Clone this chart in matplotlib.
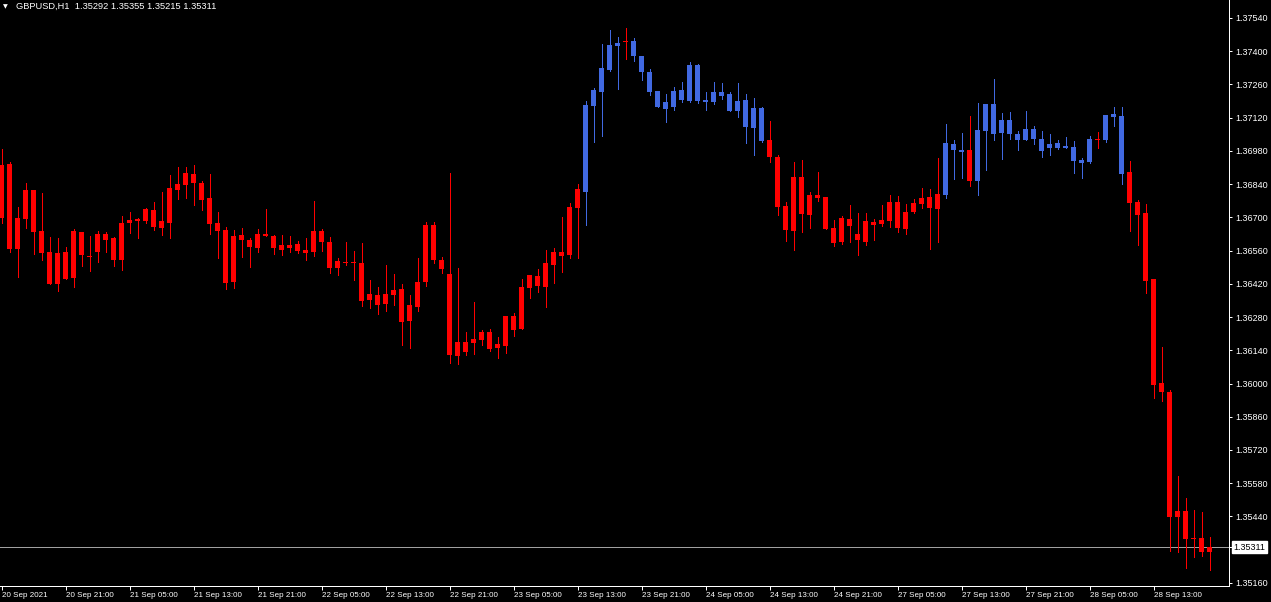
import matplotlib
matplotlib.use("Agg")
import matplotlib.pyplot as plt
import matplotlib.transforms as mtransforms
import numpy as np

#-------------------------------------------------------------------------------------------------
# %% DATA  (GBPUSD H1, 20 Sep 13:00 .. 28 Sep 20:00)

symbol = "GBPUSD,H1"

open_ = [
    1.36697, 1.36925, 1.36567, 1.36693, 1.36815, 1.36643, 1.36554, 1.36419, 1.36554, 1.36445,
    1.36638, 1.36537, 1.36554, 1.36630, 1.36613, 1.36520, 1.36676, 1.36685, 1.36685, 1.36731,
    1.36655, 1.36676, 1.36815, 1.36836, 1.36883, 1.36845, 1.36782, 1.36676, 1.36647, 1.36428,
    1.36626, 1.36605, 1.36571, 1.36630, 1.36622, 1.36563, 1.36584, 1.36588, 1.36563, 1.36554,
    1.36643, 1.36596, 1.36487, 1.36512, 1.36508, 1.36508, 1.36352, 1.36373, 1.36335, 1.36373,
    1.36398, 1.36263, 1.36322, 1.36428, 1.36668, 1.36520, 1.36461, 1.36116, 1.36175, 1.36171,
    1.36183, 1.36217, 1.36150, 1.36158, 1.36284, 1.36230, 1.36402, 1.36453, 1.36407, 1.36499,
    1.36554, 1.36541, 1.36740, 1.36807, 1.37169, 1.37228, 1.37321, 1.37422, 1.37437, 1.37443,
    1.37380, 1.37312, 1.37232, 1.37157, 1.37165, 1.37237, 1.37190, 1.37342, 1.37194, 1.37186,
    1.37228, 1.37220, 1.37148, 1.37194, 1.37077, 1.37161, 1.37026, 1.36954, 1.36748, 1.36643,
    1.36870, 1.36710, 1.36794, 1.36786, 1.36655, 1.36596, 1.36693, 1.36630, 1.36596, 1.36681,
    1.36672, 1.36685, 1.36765, 1.36651, 1.36723, 1.36756, 1.36786, 1.36735, 1.36794, 1.37009,
    1.36975, 1.36984, 1.36853, 1.37064, 1.37178, 1.37055, 1.37110, 1.37051, 1.37026, 1.37072,
    1.37030, 1.36992, 1.37013, 1.37001, 1.36996, 1.36929, 1.36933, 1.37028, 1.37026, 1.37123,
    1.37127, 1.36891, 1.36765, 1.36718, 1.36440, 1.36002, 1.35964, 1.35438, 1.35463, 1.35345,
    1.35349, 1.35292]

high_ = [
    1.36988, 1.36933, 1.36744, 1.36845, 1.36815, 1.36803, 1.36617, 1.36613, 1.36575, 1.36651,
    1.36638, 1.36622, 1.36643, 1.36638, 1.36617, 1.36706, 1.36723, 1.36697, 1.36740, 1.36765,
    1.36807, 1.36879, 1.36912, 1.36912, 1.36921, 1.36853, 1.36883, 1.36723, 1.36659, 1.36647,
    1.36655, 1.36613, 1.36651, 1.36735, 1.36626, 1.36626, 1.36622, 1.36600, 1.36613, 1.36769,
    1.36651, 1.36617, 1.36529, 1.36596, 1.36558, 1.36592, 1.36436, 1.36407, 1.36499, 1.36461,
    1.36419, 1.36373, 1.36529, 1.36681, 1.36681, 1.36533, 1.36887, 1.36487, 1.36217, 1.36343,
    1.36226, 1.36230, 1.36196, 1.36284, 1.36297, 1.36440, 1.36457, 1.36482, 1.36563, 1.36571,
    1.36702, 1.36761, 1.36841, 1.37190, 1.37245, 1.37430, 1.37489, 1.37460, 1.37498, 1.37456,
    1.37380, 1.37325, 1.37232, 1.37220, 1.37249, 1.37270, 1.37355, 1.37346, 1.37228, 1.37270,
    1.37266, 1.37228, 1.37266, 1.37220, 1.37203, 1.37165, 1.37106, 1.36963, 1.36765, 1.36933,
    1.36942, 1.36807, 1.36891, 1.36786, 1.36689, 1.36706, 1.36752, 1.36718, 1.36718, 1.36693,
    1.36752, 1.36794, 1.36790, 1.36756, 1.36777, 1.36824, 1.36820, 1.36950, 1.37093, 1.37026,
    1.37055, 1.37127, 1.37182, 1.37178, 1.37283, 1.37140, 1.37144, 1.37064, 1.37148, 1.37085,
    1.37064, 1.37051, 1.37026, 1.37039, 1.37022, 1.36950, 1.37043, 1.37060, 1.37131, 1.37165,
    1.37165, 1.36938, 1.36773, 1.36756, 1.36440, 1.36154, 1.35973, 1.35610, 1.35518, 1.35467,
    1.35459, 1.35355]

low_ = [
    1.36676, 1.36554, 1.36449, 1.36655, 1.36546, 1.36520, 1.36419, 1.36390, 1.36440, 1.36407,
    1.36495, 1.36474, 1.36512, 1.36554, 1.36495, 1.36478, 1.36634, 1.36613, 1.36676, 1.36647,
    1.36626, 1.36613, 1.36777, 1.36782, 1.36752, 1.36731, 1.36630, 1.36529, 1.36398, 1.36402,
    1.36533, 1.36491, 1.36554, 1.36622, 1.36546, 1.36541, 1.36554, 1.36550, 1.36520, 1.36537,
    1.36558, 1.36466, 1.36457, 1.36499, 1.36436, 1.36327, 1.36318, 1.36293, 1.36306, 1.36331,
    1.36162, 1.36150, 1.36306, 1.36411, 1.36508, 1.36466, 1.36086, 1.36082, 1.36120, 1.36124,
    1.36162, 1.36137, 1.36108, 1.36129, 1.36200, 1.36230, 1.36360, 1.36386, 1.36322, 1.36424,
    1.36470, 1.36529, 1.36529, 1.36668, 1.37018, 1.37043, 1.37317, 1.37241, 1.37367, 1.37359,
    1.37279, 1.37216, 1.37165, 1.37102, 1.37152, 1.37186, 1.37186, 1.37182, 1.37152, 1.37178,
    1.37199, 1.37148, 1.37123, 1.37013, 1.36963, 1.37018, 1.36933, 1.36710, 1.36600, 1.36563,
    1.36638, 1.36655, 1.36769, 1.36651, 1.36579, 1.36588, 1.36596, 1.36541, 1.36584, 1.36605,
    1.36664, 1.36659, 1.36638, 1.36630, 1.36718, 1.36740, 1.36567, 1.36596, 1.36782, 1.36862,
    1.36866, 1.36832, 1.36794, 1.36900, 1.37026, 1.36946, 1.37030, 1.36984, 1.37026, 1.37009,
    1.36954, 1.36963, 1.36988, 1.36992, 1.36887, 1.36866, 1.36929, 1.36992, 1.37018, 1.37085,
    1.36841, 1.36643, 1.36584, 1.36381, 1.35939, 1.35926, 1.35294, 1.35290, 1.35223, 1.35269,
    1.35273, 1.35215]

close_ = [
    1.36921, 1.36567, 1.36697, 1.36815, 1.36638, 1.36550, 1.36419, 1.36550, 1.36440, 1.36643,
    1.36541, 1.36533, 1.36630, 1.36605, 1.36520, 1.36676, 1.36689, 1.36693, 1.36735, 1.36659,
    1.36685, 1.36824, 1.36841, 1.36887, 1.36845, 1.36773, 1.36672, 1.36643, 1.36424, 1.36622,
    1.36605, 1.36575, 1.36630, 1.36622, 1.36571, 1.36584, 1.36571, 1.36558, 1.36550, 1.36643,
    1.36596, 1.36487, 1.36516, 1.36508, 1.36512, 1.36348, 1.36377, 1.36331, 1.36377, 1.36394,
    1.36259, 1.36331, 1.36428, 1.36668, 1.36520, 1.36482, 1.36120, 1.36175, 1.36133, 1.36188,
    1.36217, 1.36145, 1.36167, 1.36284, 1.36226, 1.36407, 1.36457, 1.36411, 1.36508, 1.36554,
    1.36537, 1.36744, 1.36820, 1.37173, 1.37237, 1.37329, 1.37426, 1.37435, 1.37437, 1.37380,
    1.37312, 1.37228, 1.37165, 1.37186, 1.37232, 1.37194, 1.37342, 1.37190, 1.37186, 1.37228,
    1.37211, 1.37148, 1.37190, 1.37081, 1.37161, 1.37022, 1.36954, 1.36744, 1.36647, 1.36870,
    1.36714, 1.36794, 1.36782, 1.36651, 1.36592, 1.36697, 1.36664, 1.36605, 1.36685, 1.36668,
    1.36689, 1.36765, 1.36655, 1.36723, 1.36761, 1.36782, 1.36740, 1.36798, 1.37013, 1.36984,
    1.36984, 1.36853, 1.37068, 1.37178, 1.37051, 1.37110, 1.37051, 1.37026, 1.37072, 1.37030,
    1.36980, 1.37009, 1.36994, 1.36992, 1.36938, 1.36942, 1.37030, 1.37028, 1.37131, 1.37136,
    1.36883, 1.36761, 1.36710, 1.36432, 1.35994, 1.35964, 1.35438, 1.35463, 1.35345, 1.35349,
    1.35290, 1.35311]

# candle colour per bar (r = red, b = blue), as shown on the chart
bar_colour = ("rrrrrrrrrrrrrrrrrrrrrrrrrrrrrrrrrrrrrrrrrrrrrrrrrrrrrrrrrrrrrrrrrrrrrrrrr"
              "bbbbbrbbbbbbbbbbbbbbbbb"
              "rrrrrrrrrrrrrrrrrrrrrr"
              "bbbrbbbbbbbbbbbbbbbrbbb"
              "rrrrrrrrrrr")

time_labels = ["20 Sep 2021", "20 Sep 21:00", "21 Sep 05:00", "21 Sep 13:00", "21 Sep 21:00",
               "22 Sep 05:00", "22 Sep 13:00", "22 Sep 21:00", "23 Sep 05:00", "23 Sep 13:00",
               "23 Sep 21:00", "24 Sep 05:00", "24 Sep 13:00", "24 Sep 21:00", "27 Sep 05:00",
               "27 Sep 13:00", "27 Sep 21:00", "28 Sep 05:00", "28 Sep 13:00"]
label_every = 8

price_ticks = [1.37540, 1.37400, 1.37260, 1.37120, 1.36980, 1.36840, 1.36700, 1.36560,
               1.36420, 1.36280, 1.36140, 1.36000, 1.35860, 1.35720, 1.35580, 1.35440,
               1.35160]

#-------------------------------------------------------------------------------------------------
# %% STYLE

RED = "#FF0000"
BLUE = "#4169E1"
PX = 0.72           # one pixel in points at dpi 100
plt.rcParams["font.family"] = ["Liberation Sans", "DejaVu Sans"]

W, H = 1271, 602
fig = plt.figure(figsize=(W / 100, H / 100), dpi=100, facecolor="black")
ax = fig.add_axes([0, 16 / H, 1229 / W, 586 / H], facecolor="black")

n = len(close_)
idx = np.arange(n)
o = np.array(open_)
h = np.array(high_)
l = np.array(low_)
c = np.array(close_)
cols = [RED if k == "r" else BLUE for k in bar_colour]

ymin, ymax = 1.35147, 1.376158
ax.set_ylim(ymin, ymax)
ax.set_xlim(-0.1875, -0.1875 + 1229 / 8)
one_px = (ymax - ymin) / 586

# wicks then bodies
ax.vlines(idx, l, h, colors=cols, linewidth=PX, antialiased=False, zorder=2)
body_lo = np.minimum(o, c)
body_h = np.maximum(np.abs(c - o), one_px)
ax.bar(idx, body_h, bottom=body_lo, width=0.625, color=cols, linewidth=0,
       antialiased=False, zorder=3)

# current bid line + label
last = close_[-1]
ax.axhline(last, color="#a0a0a0", linewidth=PX, zorder=1)
trans = mtransforms.blended_transform_factory(ax.transAxes, ax.transData)
ax.annotate(f"{last:.5f}", xy=(1, last), xycoords=trans, xytext=(3.2, 0),
            textcoords="offset points", ha="left", va="center", fontsize=6.5,
            color="black", annotation_clip=False,
            bbox=dict(boxstyle="square,pad=0.2", fc="white", ec="white"))

# axes frame
for s in ["top", "left"]:
    ax.spines[s].set_visible(False)
for s in ["right", "bottom"]:
    ax.spines[s].set_color("white")
    ax.spines[s].set_linewidth(PX)

ax.yaxis.tick_right()
ax.set_yticks(price_ticks)
ax.set_yticklabels([f"{p:.5f}" for p in price_ticks])
ax.set_yticks([last], minor=True)
ax.tick_params(axis="y", which="both", colors="white", length=2.5, width=PX,
               labelsize=6.5, pad=2)

ax.set_xticks(np.arange(0, n, label_every)[:len(time_labels)])
ax.set_xticklabels(time_labels, ha="left")
ax.tick_params(axis="x", colors="white", length=3, width=PX, labelsize=5.8, pad=1.2)

# header
fig.text(3 / W, 1 - 6.5 / H, "\u25BC", color="white", fontsize=4.5, va="center",
         family="DejaVu Sans")
fig.text(16 / W, 1 - 6.5 / H,
         f"{symbol}  {open_[-1]:.5f} {high_[-1]:.5f} {low_[-1]:.5f} {close_[-1]:.5f}",
         color="white", fontsize=6.7, va="center")

fig.savefig("out.png", dpi=100, facecolor="black")
